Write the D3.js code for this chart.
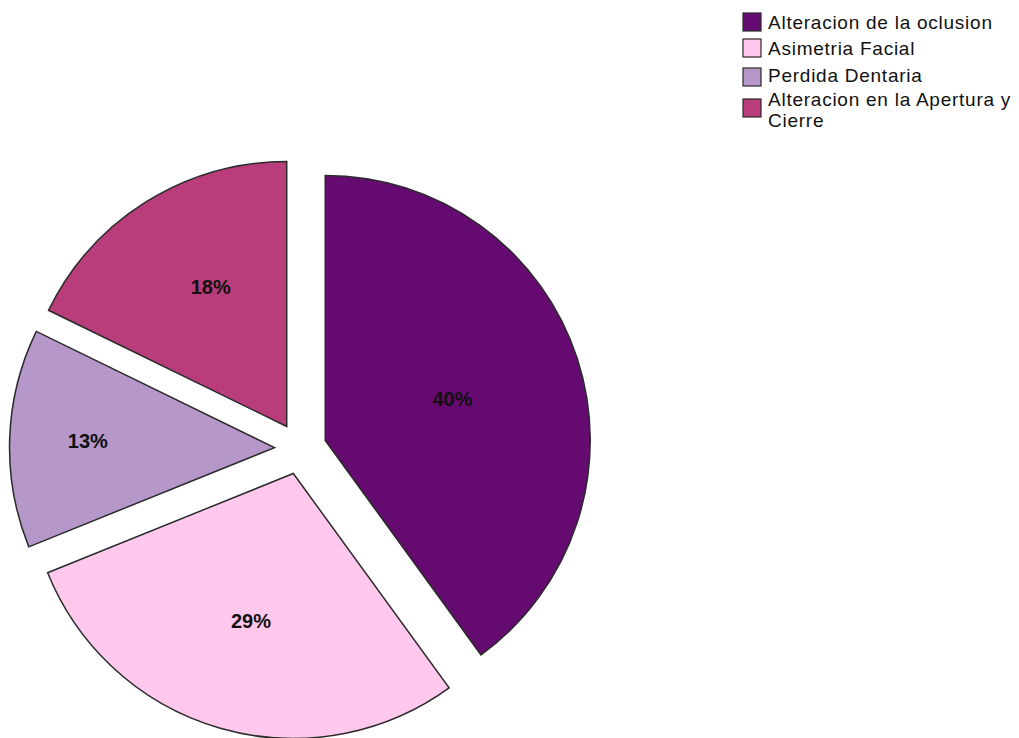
<!DOCTYPE html>
<html>
<head>
<meta charset="utf-8">
<script src="https://cdn.jsdelivr.net/npm/d3@7"></script>
<style>
  html, body { margin: 0; padding: 0; background: #ffffff; }
  svg { display: block; font-family: "Liberation Sans", Arial, sans-serif; }
</style>
</head>
<body>
<svg id="chart" width="1019" height="738"></svg>
<script>
// Categories and their counts
const categories = [
  "Alteracion de la oclusion",
  "Asimetria Facial",
  "Perdida Dentaria",
  "Alteracion en la Apertura y Cierre"
];
const counts = [18, 13, 6, 8];

// Legend text, wrapped into lines
const legendLines = [
  ["Alteracion de la oclusion"],
  ["Asimetria Facial"],
  ["Perdida Dentaria"],
  ["Alteracion en la Apertura y", "Cierre"]
];

const colors = ["#650a70", "#ffc8ec", "#b598c9", "#b93d7a"];

// Layout
const cx = 300.5, cy = 448.5, radius = 265, explode = 26;
const labelFrac = [0.505, 0.58, 0.705, 0.6];
const labelTurn = [0, 0, 0, 0.06]; // small angular nudge for label placement (radians)

const svg = d3.select("#chart");
const total = d3.sum(counts);

const pie = d3.pie().sort(null).value(d => d).startAngle(0).endAngle(2 * Math.PI);
const arcs = pie(counts);
const arc = d3.arc().innerRadius(0).outerRadius(radius);

const g = svg.append("g").attr("transform", `translate(${cx},${cy})`);

const slice = g.selectAll("g.slice")
  .data(arcs)
  .join("g")
  .attr("class", "slice")
  .attr("transform", d => {
    const mid = (d.startAngle + d.endAngle) / 2;
    return `translate(${Math.sin(mid) * explode},${-Math.cos(mid) * explode})`;
  });

slice.append("path")
  .attr("d", arc)
  .attr("fill", (d, i) => colors[i])
  .attr("stroke", "#2a2a2a")
  .attr("stroke-width", 1.5)
  .attr("stroke-linejoin", "miter");

slice.append("text")
  .attr("transform", (d, i) => {
    const mid = (d.startAngle + d.endAngle) / 2 + labelTurn[i];
    const r = radius * labelFrac[i];
    return `translate(${Math.sin(mid) * r},${-Math.cos(mid) * r})`;
  })
  .attr("text-anchor", "middle")
  .attr("dy", "0.36em")
  .attr("font-size", 20)
  .attr("font-weight", "bold")
  .attr("fill", "#111")
  .text(d => Math.round(d.value / total * 100) + "%");

// Legend
const legend = svg.append("g").attr("transform", "translate(743,0)");
const rowTop = [13, 39, 66, 90];
const lineH = 21;
const swatch = 18;

legendLines.forEach((lines, i) => {
  const item = legend.append("g").attr("transform", `translate(0,${rowTop[i]})`);
  const blockH = lines.length * lineH;
  const sy = lines.length > 1 ? (blockH - swatch) / 2 - 3 : (i === 2 ? 2 : 0);
  item.append("rect")
    .attr("x", 0)
    .attr("y", sy)
    .attr("width", swatch)
    .attr("height", swatch)
    .attr("fill", colors[i])
    .attr("stroke", "#2a2a2a")
    .attr("stroke-width", 1.2);
  item.selectAll("text")
    .data(lines)
    .join("text")
    .attr("x", 25)
    .attr("y", (d, j) => 16 + j * lineH)
    .attr("font-size", 19)
    .attr("letter-spacing", 0.75)
    .attr("fill", "#111")
    .text(d => d);
});
</script>
</body>
</html>
